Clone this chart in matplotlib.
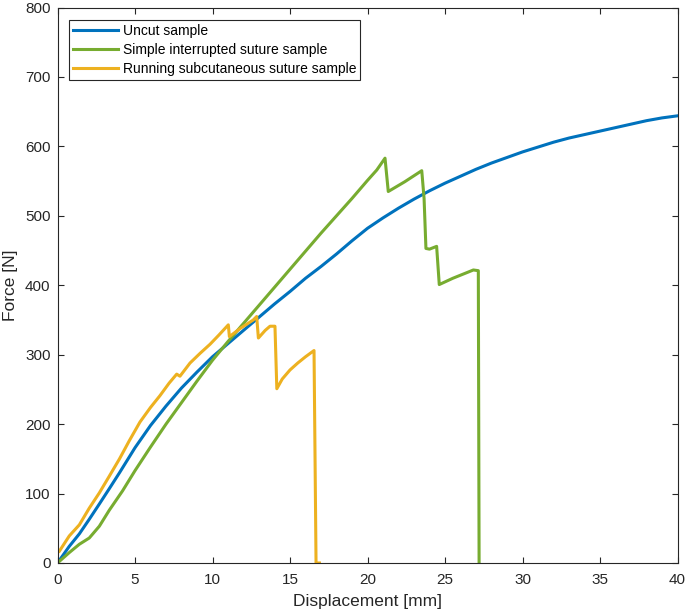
import matplotlib.pyplot as plt

# Uncut sample
uncut_x = [0, 0.76, 1.41, 2.05, 2.7, 3.34, 4, 5, 6, 7, 8, 9, 10, 11, 12, 13, 14, 15, 16,
           17, 18, 19, 20, 21, 22, 23, 24, 25, 26, 27, 28, 29, 30, 31, 32, 33, 34, 35,
           36, 37, 38, 39, 40]
uncut_y = [0, 24, 42, 63, 85, 107, 130, 166, 198, 226, 252, 275, 297, 316, 335, 354, 373,
           391, 410, 427, 445, 464, 482, 497, 511, 524, 536, 547, 557, 567, 576, 584,
           592, 599, 606, 612, 617, 622, 627, 632, 637, 641, 644]

# Simple interrupted suture sample
simple_x = [0, 0.76, 1.41, 2.05, 2.7, 3.34, 4.2, 5, 6, 7, 8, 9, 10, 11, 12, 13, 14, 15, 16,
            17, 18, 19, 20, 20.6, 21.13, 21.34, 22.4, 23.5, 23.65, 23.77, 24.0, 24.46,
            24.63, 25.5, 26.5, 26.83, 27.15, 27.2]
simple_y = [0, 15, 27, 36, 53, 76, 104, 133, 167, 200, 231, 262, 292, 319, 345, 371, 397,
            423, 449, 475, 500, 525, 551, 566, 583, 535, 549, 565, 525, 453, 452, 456,
            401, 410, 419, 422, 421, 0]

# Running subcutaneous suture sample
running_x = [0.12, 0.76, 1.41, 2.05, 2.7, 3.34, 4, 4.63, 5.32, 6, 6.61, 7.2, 7.69, 7.9,
             8.55, 9.2, 9.84, 10.4, 11.02, 11.09, 11.8, 12.63, 12.85, 12.96, 13.4, 13.71,
             14.03, 14.15, 14.5, 15, 15.5, 16, 16.55, 16.68, 16.9]
running_y = [17, 39, 55, 79, 101, 125, 150, 176, 203, 224, 241, 259, 272, 269, 288, 302,
             315, 328, 343, 326, 338, 350, 355, 324, 335, 341, 341, 251, 265, 278, 288,
             297, 306, 0, 0]

x_ticks = [0, 5, 10, 15, 20, 25, 30, 35, 40]
y_ticks = [0, 100, 200, 300, 400, 500, 600, 700, 800]

plt.rcParams['font.family'] = ['Liberation Sans', 'DejaVu Sans']
axis_col = '#262626'

fig = plt.figure(figsize=(6.88, 6.14), dpi=100)
ax = fig.add_axes([57.5 / 688, 51 / 614, 620 / 688, 555.5 / 614])

ax.plot(uncut_x, uncut_y, color='#0072BD', lw=2.2, label='Uncut sample')
ax.plot(simple_x, simple_y, color='#77AC30', lw=2.2, label='Simple interrupted suture sample')
ax.plot(running_x, running_y, color='#EDB120', lw=2.2, label='Running subcutaneous suture sample')

ax.set_xlim(0, 40)
ax.set_ylim(0, 800)
ax.set_xticks(x_ticks)
ax.set_yticks(y_ticks)
ax.tick_params(direction='in', top=True, right=True, length=4, width=0.8,
               colors=axis_col, labelsize=11)
ax.tick_params(axis='x', pad=7)
ax.tick_params(axis='y', pad=5)
for s in ax.spines.values():
    s.set_color(axis_col)
    s.set_linewidth(0.8)

ax.set_xlabel('Displacement [mm]', fontsize=12.5, color=axis_col, labelpad=5)
ax.set_ylabel('Force [N]', fontsize=12.5, color=axis_col, labelpad=5)

leg = ax.legend(loc='upper left', bbox_to_anchor=(0.018, 0.978), fontsize=10,
                frameon=True, fancybox=False, edgecolor=axis_col, framealpha=1,
                handlelength=3.25, handletextpad=0.35, borderpad=0.3, labelspacing=0.37,
                borderaxespad=0)
leg.get_frame().set_linewidth(0.8)

fig.savefig('out.png', dpi=100)
